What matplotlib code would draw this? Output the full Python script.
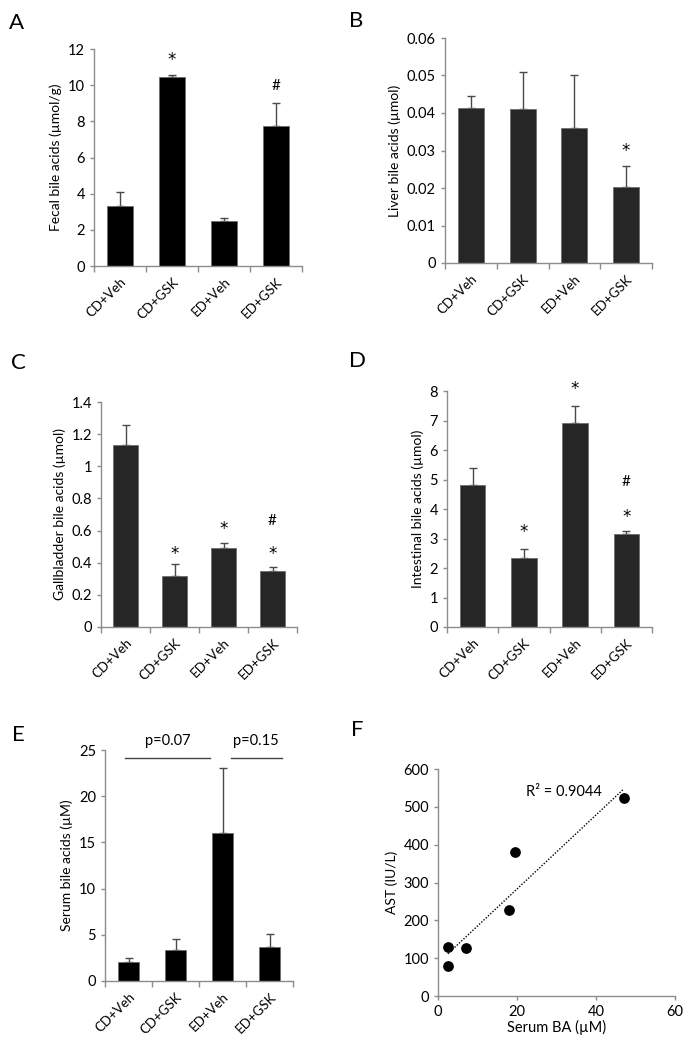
import numpy as np
import matplotlib
matplotlib.use('Agg')
import matplotlib.pyplot as plt

plt.rcParams['font.family'] = ['Lato', 'DejaVu Sans']

groups = ['CD+Veh', 'CD+GSK', 'ED+Veh', 'ED+GSK']

# panel data (mean, upper error)
fecal = [3.3, 10.45, 2.5, 7.75]
fecal_err = [0.77, 0.13, 0.15, 1.25]
liver = [0.0413, 0.0410, 0.0359, 0.0203]
liver_err = [0.0032, 0.0100, 0.0141, 0.0056]
gall = [1.13, 0.32, 0.49, 0.35]
gall_err = [0.13, 0.075, 0.035, 0.025]
intest = [4.82, 2.33, 6.92, 3.15]
intest_err = [0.58, 0.30, 0.58, 0.12]
serum = [2.1, 3.4, 16.0, 3.7]
serum_err = [0.35, 1.1, 7.0, 1.35]

# significance marks: (group index, y, symbol)
fecal_marks = [(1, 11.75, '*'), (3, 9.95, '#')]
liver_marks = [(3, 0.0316, '*')]
gall_marks = [(1, 0.50, '*'), (2, 0.65, '*'), (3, 0.50, '*'), (3, 0.66, '#')]
intest_marks = [(1, 3.45, '*'), (2, 8.3, '*'), (3, 3.95, '*'), (3, 4.93, '#')]

# scatter: serum BA vs AST
serum_ba = [2.5, 2.5, 7.0, 18.0, 19.5, 47.0]
ast = [78, 130, 128, 228, 380, 523]

W, H = 690, 1050
fig = plt.figure(figsize=(W / 100, H / 100), dpi=100)


def px_axes(l, t, r, b):
    return fig.add_axes([l / W, 1 - b / H, (r - l) / W, (b - t) / H])


def style_axes(ax):
    for s in ['top', 'right']:
        ax.spines[s].set_visible(False)
    for s in ['left', 'bottom']:
        ax.spines[s].set_color('#8c8c8c')
        ax.spines[s].set_linewidth(1.0)
    ax.tick_params(axis='y', colors='#8c8c8c', labelcolor='black', labelsize=10.5, length=3, width=1)


def bar_panel(ax, vals, errs, color, ylim, yticks, ticklabels, ylabel, marks, width=0.5):
    x = np.arange(len(groups))
    ax.bar(x, vals, width=width, color=color, edgecolor='#6e6e6e', linewidth=0.6, zorder=2)
    ax.errorbar(x, vals, yerr=[np.zeros(len(vals)), errs], fmt='none', ecolor='#4a4a4a',
                elinewidth=1.0, capsize=3, capthick=1.0, zorder=1)
    ax.set_xlim(-0.5, 3.5)
    ax.set_ylim(*ylim)
    ax.set_yticks(yticks)
    ax.set_yticklabels(ticklabels)
    ax.set_xticks(x)
    ax.set_xticklabels(groups, rotation=45, ha='right', rotation_mode='anchor', fontsize=9.5)
    ax.set_xticks(np.arange(-0.5, 4.0, 1.0), minor=True)
    ax.tick_params(axis='x', which='major', length=0, pad=7)
    ax.tick_params(axis='x', which='minor', length=4, width=1, colors='#8c8c8c')
    ax.set_ylabel(ylabel, fontsize=10)
    style_axes(ax)
    for i, y, s in marks:
        if s == '*':
            ax.annotate(s, (i, y), xytext=(0, -5), textcoords='offset points',
                        ha='center', va='center', fontsize=12, family='DejaVu Sans',
                        annotation_clip=False)
        else:
            ax.text(i, y, s, ha='center', va='center', fontsize=11)


axA = px_axes(94, 49, 302, 266)
bar_panel(axA, fecal, fecal_err, 'black', (0, 12), [0, 2, 4, 6, 8, 10, 12],
          ['0', '2', '4', '6', '8', '10', '12'], 'Fecal bile acids (µmol/g)', fecal_marks)

axB = px_axes(445, 38, 652, 263)
bar_panel(axB, liver, liver_err, '#262626', (0, 0.06), [0, 0.01, 0.02, 0.03, 0.04, 0.05, 0.06],
          ['0', '0.01', '0.02', '0.03', '0.04', '0.05', '0.06'], 'Liver bile acids (µmol)', liver_marks)

axC = px_axes(101, 402, 297, 627)
bar_panel(axC, gall, gall_err, '#262626', (0, 1.4), [0, 0.2, 0.4, 0.6, 0.8, 1.0, 1.2, 1.4],
          ['0', '0.2', '0.4', '0.6', '0.8', '1', '1.2', '1.4'], 'Gallbladder bile acids (µmol)', gall_marks)

axD = px_axes(447, 391, 652, 627)
bar_panel(axD, intest, intest_err, '#262626', (0, 8), list(range(0, 9)),
          [str(v) for v in range(0, 9)], 'Intestinal bile acids (µmol)', intest_marks)

axE = px_axes(105, 750, 293, 981)
bar_panel(axE, serum, serum_err, 'black', (0, 25), [0, 5, 10, 15, 20, 25],
          ['0', '5', '10', '15', '20', '25'], 'Serum bile acids (µM)', [], width=0.43)
axE.plot([-0.08, 1.74], [24.1, 24.1], color='#444444', lw=1.0, clip_on=False)
axE.plot([2.19, 3.27], [24.1, 24.1], color='#444444', lw=1.0, clip_on=False)
axE.text(0.84, 26.0, 'p=0.07', ha='center', va='center', fontsize=10.5)
axE.text(2.72, 26.0, 'p=0.15', ha='center', va='center', fontsize=10.5)

axF = px_axes(438, 769, 675, 996)
axF.scatter(serum_ba, ast, s=45, color='black', zorder=3)
slope, icpt = np.polyfit(serum_ba, ast, 1)
xs = np.array([min(serum_ba), max(serum_ba)])
axF.plot(xs, slope * xs + icpt, color='black', lw=1.0, linestyle=(0, (1, 1.2)))
axF.text(32, 538, 'R² = 0.9044', ha='center', va='center', fontsize=10.5)
axF.set_xlim(0, 60)
axF.set_ylim(0, 600)
axF.set_xticks([0, 20, 40, 60])
axF.set_yticks([0, 100, 200, 300, 400, 500, 600])
axF.tick_params(axis='x', colors='#8c8c8c', labelcolor='black', labelsize=10.5, length=3, width=1)
axF.set_xlabel('Serum BA (µM)', fontsize=10.5, labelpad=1)
axF.set_ylabel('AST (IU/L)', fontsize=10)
style_axes(axF)

labels = [('A', 9, 13), ('B', 349, 11), ('C', 11, 353), ('D', 349, 351), ('E', 12, 725), ('F', 351, 720)]
for lab, lx, ly in labels:
    fig.text(lx / W, 1 - ly / H, lab, ha='left', va='top', fontsize=16)

fig.savefig('out.png', dpi=100)
